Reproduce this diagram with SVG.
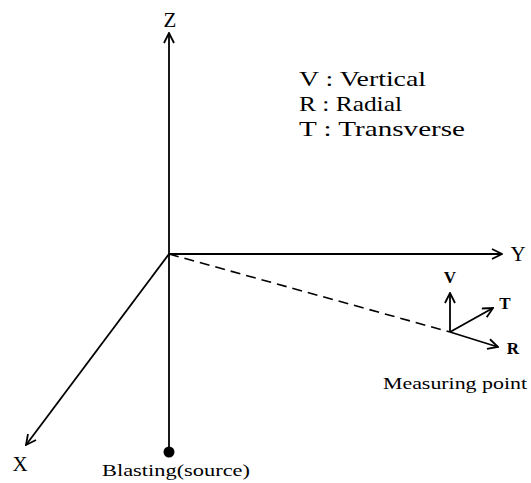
<svg xmlns="http://www.w3.org/2000/svg" width="531" height="483" viewBox="0 0 531 483">
<style>
.ax{stroke:#000;stroke-width:1.8;fill:none;marker-end:url(#arr)}
.dash{stroke:#000;stroke-width:1.6;fill:none;stroke-dasharray:10 6}
text{fill:#000}
.lg{font-size:22px}
.al{font-size:21px}
.sm{font-size:17px}
.b{font-size:17px;font-weight:bold}
</style>
<defs>
<marker id="arr" viewBox="0 0 12 12" refX="11" refY="6" markerWidth="12" markerHeight="12" markerUnits="userSpaceOnUse" orient="auto">
<path d="M1,1 L11,6 L1,11" fill="none" stroke="#000" stroke-width="1.8"/>
</marker>
</defs>
<rect width="531" height="483" fill="#fff"/>
<g id="connectors">
<line class="ax" x1="169" y1="254" x2="169" y2="33"/>
<line class="ax" x1="169" y1="254" x2="502" y2="254"/>
<line class="ax" x1="169" y1="254" x2="26" y2="445"/>
<line x1="169" y1="254" x2="169" y2="452" stroke="#000" stroke-width="1.8"/>
<line class="dash" x1="169" y1="254" x2="450" y2="332"/>
<line class="ax" x1="450" y1="332" x2="450" y2="293"/>
<line class="ax" x1="450" y1="332" x2="493" y2="308"/>
<line class="ax" x1="450" y1="332" x2="498" y2="347"/>
</g>
<g font-family="'Liberation Serif', 'Times New Roman', serif">
<g id="axis-z"><text class="al" x="170" y="27" text-anchor="middle">Z</text></g>
<g id="axis-y"><text class="al" x="518" y="261" text-anchor="middle">Y</text></g>
<g id="axis-x"><text class="al" x="20" y="471" text-anchor="middle">X</text></g>
<g id="source">
<circle cx="169" cy="452" r="5.5" fill="#000"/>
<text class="sm" x="102" y="476" textLength="148" lengthAdjust="spacingAndGlyphs">Blasting(source)</text>
</g>
<g id="measuring-point">
<text class="b" x="450" y="283" text-anchor="middle">V</text>
<text class="b" x="505" y="309" text-anchor="middle">T</text>
<text class="b" x="513" y="354" text-anchor="middle">R</text>
<text class="sm" x="383" y="389" textLength="144" lengthAdjust="spacingAndGlyphs">Measuring point</text>
</g>
<g id="legend">
<text class="lg" x="299" y="86" textLength="127" lengthAdjust="spacingAndGlyphs">V : Vertical</text>
<text class="lg" x="299" y="111" textLength="103" lengthAdjust="spacingAndGlyphs">R : Radial</text>
<text class="lg" x="299" y="136" textLength="166" lengthAdjust="spacingAndGlyphs">T : Transverse</text>
</g>
</g>
</svg>
